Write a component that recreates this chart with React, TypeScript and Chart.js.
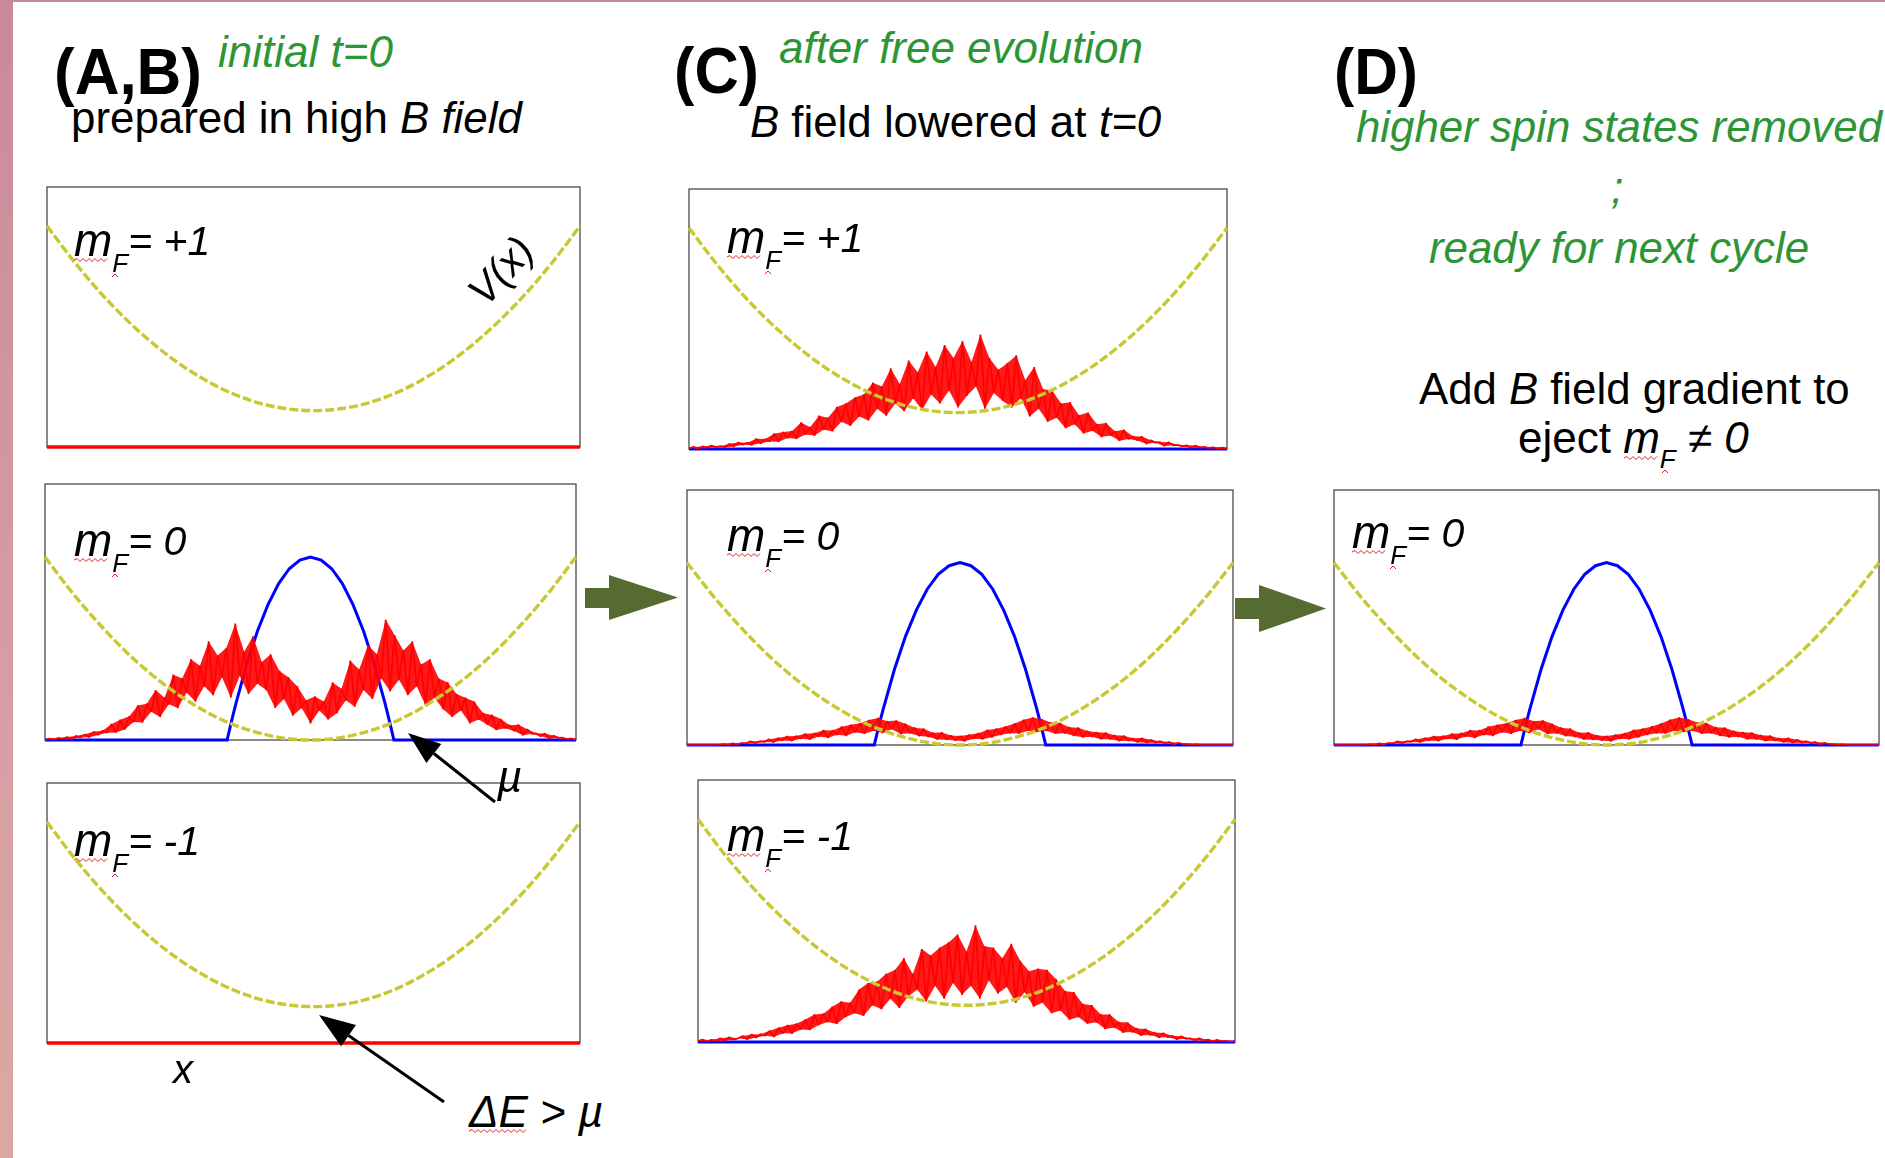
import React, { useEffect, useRef } from "react";
import { Chart, registerables } from "chart.js";
Chart.register(...registerables);

// ---------- data (y in % of panel height, x in % of panel width) ----------
const potentialX = [0, 5, 10, 15, 20, 25, 30, 35, 40, 45, 50, 55, 60, 65, 70, 75, 80, 85, 90, 95, 100];
const potentialHigh = [85, 71.5, 59.4, 48.8, 39.6, 31.8, 25.4, 20.4, 16.8, 14.7, 14, 14.7, 16.8, 20.4, 25.4, 31.8, 39.6, 48.8, 59.4, 71.5, 85];
const potentialLow = [71.5, 57.9, 45.8, 35.0, 25.7, 17.9, 11.4, 6.4, 2.9, 0.7, 0, 0.7, 2.9, 6.4, 11.4, 17.9, 25.7, 35.0, 45.8, 57.9, 71.5];

const condensateX = [0, 34.3, 34.5, 35, 35.5, 36, 38, 40, 42, 44, 46, 48, 50, 52, 54, 56, 58, 60, 62, 64, 64.5, 65, 65.5, 65.7, 100];
const condensateY = [0, 0, 1.8, 6.2, 10.5, 14.6, 29.7, 42.5, 52.9, 61.1, 66.9, 70.3, 71.5, 70.3, 66.9, 61.1, 52.9, 42.5, 29.7, 14.6, 10.5, 6.2, 1.8, 0, 0];

const emptyX = [0, 100];
const emptyY = [0, 0];

const thermalA0 = [
  0.1, 0.6, 0.2, 0.8, 0.5, 1.2, 0.4, 1.6, 1.0, 2.2,
  1.1, 3.2, 2.0, 3.6, 2.8, 6.2, 2.9, 7.9, 4.1, 9.2,
  7.0, 13.5, 6.8, 14.2, 11.0, 19.5, 9.0, 16.5, 14.0, 25.5,
  12.5, 24.0, 18.5, 31.5, 15.0, 29.0, 21.0, 38.5, 17.5, 33.0,
  24.5, 36.0, 16.5, 45.5, 25.0, 34.5, 18.0, 40.5, 22.0, 30.5,
  19.5, 33.5, 12.5, 27.0, 16.0, 24.5, 9.5, 21.0, 12.5, 15.5,
  6.5,
  17.0, 11.5, 15.0, 8.0, 22.5, 10.5, 20.0, 15.5, 31.0, 13.0,
  27.5, 19.5, 37.0, 16.0, 33.5, 24.0, 47.0, 19.0, 41.0, 23.5,
  35.0, 17.5, 38.5, 21.0, 29.5, 13.5, 31.5, 16.5, 24.0, 12.0,
  22.5, 9.0, 18.0, 11.5, 16.5, 6.5, 15.0, 8.0, 10.5, 6.0,
  9.8, 3.9, 8.2, 4.6, 5.8, 3.5, 6.0, 1.9, 4.2, 2.4,
  2.6, 1.5, 2.5, 0.6, 1.7, 0.8, 0.9, 0.4, 0.6, 0.1,
];

const thermalCPlus = [
  0.3, 0.8, 0.2, 1.0, 0.4, 1.3, 0.7, 1.1, 0.6, 2.0,
  1.0, 2.5, 1.6, 2.4, 1.5, 3.9, 2.2, 3.8, 2.9, 5.9,
  2.8, 6.5, 4.2, 6.9, 3.9, 10.2, 5.6, 8.4, 5.2, 12.8,
  7.4, 12.0, 6.8, 16.2, 10.5, 17.5, 8.9, 19.8, 12.5, 21.0,
  11.0, 25.5, 15.5, 24.0, 12.8, 31.0, 17.5, 25.0, 14.5, 34.0,
  19.5, 29.5, 15.0, 37.5, 21.0, 31.5, 17.5, 40.0, 22.5, 35.0,
  16.0,
  41.5, 20.5, 33.5, 24.0, 44.0, 15.5, 35.0, 21.5, 30.5, 18.5,
  33.0, 16.0, 36.0, 19.5, 26.5, 12.5, 31.5, 15.5, 23.0, 10.5,
  22.5, 12.0, 17.5, 8.0, 18.0, 9.5, 13.0, 6.0, 14.0, 7.0,
  9.5, 4.6, 10.0, 5.2, 6.8, 3.2, 7.4, 3.8, 4.9, 3.3,
  4.8, 2.0, 3.4, 2.4, 2.7, 1.2, 2.6, 1.4, 1.6, 1.0,
  1.4, 0.5, 1.3, 0.5, 0.8, 0.4, 0.6, 0.2, 0.5, 0.1,
];

const thermalCMinus = [
  0.4, 0.9, 0.3, 0.8, 0.5, 1.4, 0.5, 1.8, 0.9, 1.4,
  2.3, 1.0, 2.9, 1.7, 3.0, 2.4, 4.3, 2.0, 5.4, 3.3,
  6.4, 3.2, 7.0, 4.8, 8.6, 4.6, 10.5, 6.5, 10.8, 7.6,
  13.5, 6.9, 15.5, 9.5, 15.0, 11.0, 20.0, 10.0, 22.5, 14.0,
  23.0, 12.5, 26.0, 16.5, 27.5, 13.0, 32.0, 17.5, 26.0, 20.0,
  35.5, 15.5, 33.0, 21.5, 36.0, 16.5, 38.0, 22.5, 41.0, 18.0,
  34.5,
  21.5, 44.5, 16.5, 36.5, 23.5, 36.0, 18.5, 32.0, 21.0, 37.5,
  15.0, 31.0, 19.0, 27.0, 13.5, 28.0, 15.0, 27.5, 11.0, 24.0,
  12.0, 19.5, 8.5, 19.0, 9.5, 14.5, 7.0, 14.0, 7.5, 10.5,
  5.0, 10.5, 5.5, 7.6, 3.6, 7.4, 3.8, 5.2, 2.5, 5.0,
  2.7, 3.6, 1.7, 3.4, 1.8, 2.4, 1.0, 2.2, 1.2, 1.4,
  0.6, 1.4, 0.6, 0.9, 0.2, 0.8, 0.3, 0.4, 0.2, 0.3,
];

const thermalC0 = [
  0, 0, 0, 0, 0, 0, 0, 0.1, 0.4, 0.1,
  0.7, 0.3, 0.8, 0.6, 1.5, 0.7, 1.5, 1.2, 2.3, 1.1,
  2.7, 1.8, 3.4, 1.6, 3.5, 2.5, 4.4, 2.2, 4.6, 3.3,
  5.8, 2.8, 5.7, 4.0, 7.2, 3.6, 7.9, 5.0, 8.5, 4.4,
  9.8, 5.6, 10.6, 4.7, 9.3, 6.2, 9.6, 4.3, 8.3, 4.6,
  6.8, 3.5, 6.4, 3.2, 4.8, 2.2, 4.9, 2.1, 3.7, 1.8,
  3.5,
  1.5, 4.0, 2.5, 4.6, 2.3, 5.9, 3.0, 6.4, 4.0, 7.3,
  4.6, 8.4, 4.5, 9.9, 5.6, 10.8, 5.1, 10.1, 5.6, 8.8,
  4.4, 8.6, 4.6, 7.0, 3.6, 6.8, 3.0, 5.5, 3.2, 5.0,
  2.3, 4.8, 2.3, 3.8, 1.6, 3.6, 1.7, 2.6, 1.1, 2.7,
  0.9, 2.1, 0.9, 1.5, 0.7, 1.2, 0.3, 0.9, 0.4, 0.4,
  0.2, 0.3, 0, 0, 0, 0, 0, 0, 0, 0,
];

// ---------- styles ----------
const FONT = '"Liberation Sans", Arial, Helvetica, sans-serif';
const YELLOW = "#c8c832";
const RED = "#ff0000";
const RED_FILL = "rgba(255,0,0,0.9)";
const BLUE = "#0000ff";
const GREEN_TXT = "#2e9537";
const OLIVE = "#566b30";
const PAD = 8;

type PanelCfg = {
  left: number; top: number; w: number; h: number;
  pot: number[]; red?: number[]; tf?: boolean; flat?: "red" | "blue";
};

const panels: PanelCfg[] = [
  { left: 47, top: 187, w: 533, h: 260, pot: potentialHigh, flat: "red" },
  { left: 45, top: 484, w: 531, h: 256, pot: potentialLow, red: thermalA0, tf: true },
  { left: 47, top: 783, w: 533, h: 260, pot: potentialHigh, flat: "red" },
  { left: 689, top: 189, w: 538, h: 260, pot: potentialHigh, red: thermalCPlus, flat: "blue" },
  { left: 687, top: 490, w: 546, h: 255, pot: potentialLow, red: thermalC0, tf: true },
  { left: 698, top: 780, w: 537, h: 262, pot: potentialHigh, red: thermalCMinus, flat: "blue" },
  { left: 1334, top: 490, w: 545, h: 255, pot: potentialLow, red: thermalC0, tf: true },
];

const boxPlugin = {
  id: "box",
  beforeDatasetsDraw(chart: any) {
    const { ctx, chartArea: a } = chart;
    ctx.save();
    ctx.strokeStyle = "#4a4a4a";
    ctx.lineWidth = 1.3;
    ctx.strokeRect(a.left, a.top, a.right - a.left, a.bottom - a.top);
    ctx.restore();
  },
};

function Panel({ cfg }: { cfg: PanelCfg }) {
  const ref = useRef<HTMLCanvasElement>(null);
  useEffect(() => {
    const datasets: any[] = [];
    datasets.push({
      data: potentialX.map((x, i) => ({ x, y: cfg.pot[i] })),
      borderColor: YELLOW, borderWidth: 3.4, borderDash: [9, 3],
      cubicInterpolationMode: "monotone", order: 0,
    });
    if (cfg.red) {
      const n = cfg.red.length - 1;
      const pts = cfg.red.map((y, i) => ({ x: (i * 100) / n, y }));
      datasets.push({
        data: pts, borderColor: RED, borderWidth: 1.7, borderJoinStyle: "bevel", tension: 0, order: 1,
      });
      // band of the noisy signal: filled between alternate samples
      datasets.push({
        data: pts.filter((_, i) => i % 2 === 0), borderWidth: 0, borderColor: "rgba(0,0,0,0)",
        backgroundColor: RED_FILL, fill: "+1", tension: 0, order: 1.5,
      });
      datasets.push({
        data: pts.filter((_, i) => i % 2 === 1), borderWidth: 0, borderColor: "rgba(0,0,0,0)",
        fill: false, tension: 0, order: 1.6,
      });
    }
    if (cfg.tf) {
      datasets.push({
        data: condensateX.map((x, i) => ({ x, y: condensateY[i] })),
        borderColor: BLUE, borderWidth: 3, tension: 0, order: 2,
      });
    }
    if (cfg.flat) {
      datasets.push({
        data: emptyX.map((x, i) => ({ x, y: emptyY[i] })),
        borderColor: cfg.flat === "red" ? RED : BLUE,
        borderWidth: cfg.flat === "red" ? 3.5 : 3.2, order: cfg.flat === "red" ? 1 : 3,
      });
    }
    datasets.forEach((d) => { d.pointRadius = 0; if (d.fill === undefined) d.fill = false; d.clip = PAD; });
    const chart = new Chart(ref.current!, {
      type: "line",
      data: { datasets },
      options: {
        animation: false,
        responsive: false,
        devicePixelRatio: 1,
        layout: { padding: PAD },
        plugins: { legend: { display: false }, tooltip: { enabled: false } },
        events: [],
        scales: {
          x: { type: "linear", min: 0, max: 100, display: false },
          y: { type: "linear", min: 0, max: 100, display: false },
        },
      } as any,
      plugins: [boxPlugin],
    });
    return () => chart.destroy();
  }, []);
  const W = cfg.w + 2 * PAD, H = cfg.h + 2 * PAD;
  return (
    <canvas ref={ref} width={W} height={H}
      style={{ position: "absolute", left: cfg.left - PAD, top: cfg.top - PAD, width: W, height: H }} />
  );
}

// ---------- text helpers ----------
type Seg = { t: string; i?: boolean; b?: boolean; s?: number; dy?: number };
let mctx: CanvasRenderingContext2D | null = null;
function fontOf(sg: Seg, size: number) {
  return `${sg.i ? "italic " : ""}${sg.b ? "bold " : ""}${sg.s ?? size}px ${FONT}`;
}
function measure(sg: Seg, size: number) {
  if (!mctx) mctx = document.createElement("canvas").getContext("2d");
  mctx!.font = fontOf(sg, size);
  return mctx!.measureText(sg.t).width;
}
function TextLine({ x, y, size, segs, width, color = "#000", center }: {
  x: number; y: number; size: number; segs: Seg[]; width?: number; color?: string; center?: boolean;
}) {
  const ws = segs.map((s) => measure(s, size));
  const total = ws.reduce((a, b) => a + b, 0);
  const k = width ? width / total : 1;
  let cx = center ? x - (total * k) / 2 : x;
  return (
    <>
      {segs.map((sg, idx) => {
        const fs = sg.s ?? size;
        const el = (
          <span key={idx} style={{
            position: "absolute", left: cx, top: y + (sg.dy ?? 0) - 0.905 * fs,
            fontFamily: FONT, fontSize: fs, fontStyle: sg.i ? "italic" : "normal",
            fontWeight: sg.b ? "bold" : "normal", lineHeight: "normal", whiteSpace: "pre",
            color, transform: `scaleX(${k})`, transformOrigin: "0 0",
          }}>{sg.t}</span>
        );
        cx += ws[idx] * k;
        return el;
      })}
    </>
  );
}

function wave(x0: number, x1: number, y: number, amp = 1.5, step = 3) {
  let d = `M ${x0} ${y}`;
  let up = true;
  for (let x = x0 + step; x <= x1 + 0.01; x += step) {
    d += ` L ${x} ${y + (up ? -amp : amp)}`;
    up = !up;
  }
  return d;
}

function Arrow({ tail, tip, L, hw }: { tail: [number, number]; tip: [number, number]; L: number; hw: number }) {
  const dx = tail[0] - tip[0], dy = tail[1] - tip[1];
  const len = Math.hypot(dx, dy);
  const ux = dx / len, uy = dy / len;
  const bx = tip[0] + ux * L, by = tip[1] + uy * L;
  const nx = -uy, ny = ux;
  return (
    <g>
      <line x1={tail[0]} y1={tail[1]} x2={bx} y2={by} stroke="#000" strokeWidth={3} />
      <polygon points={`${tip[0]},${tip[1]} ${bx + nx * hw},${by + ny * hw} ${bx - nx * hw},${by - ny * hw}`} fill="#000" />
    </g>
  );
}

const mfLabels: { x: number; y: number; v: string }[] = [
  { x: 74, y: 255, v: "= +1" },
  { x: 74, y: 555, v: "= 0" },
  { x: 74, y: 855, v: "= -1" },
  { x: 727, y: 252, v: "= +1" },
  { x: 727, y: 550, v: "= 0" },
  { x: 727, y: 850, v: "= -1" },
  { x: 1352, y: 547, v: "= 0" },
];

export default function App() {
  return (
    <div style={{ position: "fixed", left: 0, top: 0, width: 1885, height: 1158, background: "#fff", overflow: "hidden", fontFamily: FONT }}>
      <div style={{ position: "absolute", left: 0, top: 0, width: 1885, height: 2, background: "#c78a98" }} />
      <div style={{ position: "absolute", left: 0, top: 0, width: 13, height: 1158, background: "linear-gradient(#c98a98, #d69ea4 60%, #dca7a3)" }} />

      {panels.map((p, i) => <Panel key={i} cfg={p} />)}

      {/* headings */}
      <TextLine x={54} y={93} size={64} width={148} segs={[{ t: "(A,B)", b: true }]} />
      <TextLine x={218} y={67} size={44} color={GREEN_TXT} segs={[{ t: "initial t=0", i: true }]} />
      <TextLine x={71} y={133} size={44} width={451} segs={[{ t: "prepared in high " }, { t: "B field", i: true }]} />

      <TextLine x={674} y={92} size={64} width={85} segs={[{ t: "(C)", b: true }]} />
      <TextLine x={779} y={63} size={44} width={364} color={GREEN_TXT} segs={[{ t: "after free evolution", i: true }]} />
      <TextLine x={750} y={137} size={44} width={411} segs={[{ t: "B", i: true }, { t: " field lowered at " }, { t: "t=0", i: true }]} />

      <TextLine x={1334} y={93} size={64} width={84} segs={[{ t: "(D)", b: true }]} />
      <TextLine x={1356} y={142} size={44} width={526} color={GREEN_TXT} segs={[{ t: "higher spin states removed", i: true }]} />
      <TextLine x={1617} y={203} size={44} center color={GREEN_TXT} segs={[{ t: ";", i: true }]} />
      <TextLine x={1429} y={263} size={44} width={380} color={GREEN_TXT} segs={[{ t: "ready for next cycle", i: true }]} />
      <TextLine x={1419} y={404} size={44} width={431} segs={[{ t: "Add " }, { t: "B", i: true }, { t: " field gradient to" }]} />
      <TextLine x={1518} y={453} size={44} segs={[{ t: "eject " }, { t: "m", i: true }, { t: "F", i: true, s: 26, dy: 15 }, { t: " \u2260 0", i: true }]} />

      {/* panel labels */}
      {mfLabels.map((m, i) => (
        <TextLine key={i} x={m.x} y={m.y} size={41} segs={[{ t: "m", i: true, s: 46 }, { t: "F", i: true, s: 26, dy: 17 }, { t: m.v, i: true }]} />
      ))}

      <TextLine x={497} y={792} size={44} segs={[{ t: "\u00b5", i: true }]} />
      <TextLine x={173} y={1083} size={40} segs={[{ t: "x", i: true }]} />
      <TextLine x={469} y={1127} size={44} segs={[{ t: "\u0394E > \u00b5", i: true }]} />
      <div style={{ position: "absolute", left: 501, top: 271, transform: "translate(-50%, -50%) rotate(-48deg)", fontFamily: FONT, fontStyle: "italic", fontSize: 41, whiteSpace: "pre", lineHeight: "normal", color: "#000" }}>V(x)</div>

      <svg width={1885} height={1158} style={{ position: "absolute", left: 0, top: 0, pointerEvents: "none" }}>
        <polygon points="585,588 609,588 609,575 678,597.5 609,620 609,608 585,608" fill={OLIVE} />
        <polygon points="1235,598 1259,598 1259,585 1326,608.5 1259,632 1259,619 1235,619" fill={OLIVE} />
        <Arrow tail={[495, 802]} tip={[408, 733]} L={33} hw={12} />
        <Arrow tail={[444, 1102]} tip={[319, 1015]} L={36} hw={13} />
        <g stroke="#e02020" strokeWidth={1} fill="none">
          {mfLabels.map((m, i) => (
            <g key={i}>
              <path d={wave(m.x, m.x + 35, m.y + 5)} />
              <path d={`M ${m.x + 38} ${m.y + 22} L ${m.x + 41} ${m.y + 19} L ${m.x + 44} ${m.y + 22}`} />
            </g>
          ))}
          <path d={wave(1624, 1658, 458)} />
          <path d={`M 1662 473 L 1665 470 L 1668 473`} />
          <path d={wave(469, 526, 1131)} />
        </g>
      </svg>
    </div>
  );
}
